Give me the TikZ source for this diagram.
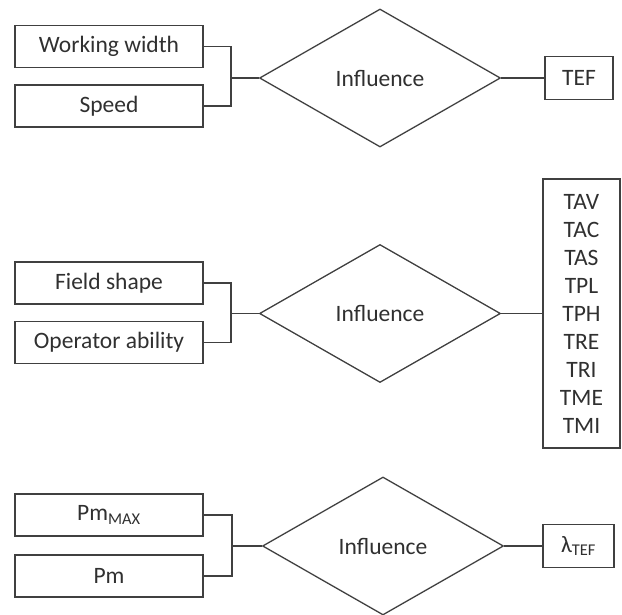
\documentclass[tikz,border=0pt]{standalone}
\usepackage{fontspec}
\setmainfont{Carlito}
\usetikzlibrary{shapes.geometric}

\definecolor{linegray}{HTML}{404040}
\definecolor{textgray}{HTML}{303030}

\begin{document}
\begin{tikzpicture}[x=1pt, y=-1pt,
    factor/.style={draw=linegray, line width=1.3pt, minimum width=188pt, minimum height=42pt,
        inner sep=0pt, text=textgray, font=\fontsize{23.5}{28}\selectfont},
    influence/.style={diamond, draw=linegray, line width=1.3pt, minimum width=241pt,
        minimum height=138pt, inner sep=0pt, text=textgray, font=\fontsize{23.5}{28}\selectfont},
    result/.style={draw=linegray, line width=1.3pt, minimum height=43pt, inner sep=0pt,
        text=textgray, font=\fontsize{23.5}{28}\selectfont, align=center},
    link/.style={draw=linegray, line width=1.3pt}]

    \useasboundingbox (0,0) rectangle (622,615);

    % first group
    \node[factor] (ww) at (109,46.5) {Working width};
    \node[factor] (sp) at (109,106) {Speed};
    \node[influence] (d1) at (380,78) {Influence};
    \node[result, minimum width=68pt] (tef) at (579,78) {TEF};

    \coordinate (j1) at (231,78);
    \draw[link] (ww.east) -| (j1) |- (sp.east);
    \draw[link] (j1) -- (d1.west);
    \draw[link] (d1.east) -- (tef.west);

    % second group
    \node[factor] (fs) at (109,283) {Field shape};
    \node[factor] (oa) at (109,342.5) {Operator ability};
    \node[influence] (d2) at (380,313.5) {Influence};
    \node[result, minimum width=77pt, minimum height=269pt] (tav) at (581.5,313.5)
        {TAV\\TAC\\TAS\\TPL\\TPH\\TRE\\TRI\\TME\\TMI};

    \coordinate (j2) at (231,313.5);
    \draw[link] (fs.east) -| (j2) |- (oa.east);
    \draw[link] (j2) -- (d2.west);
    \draw[link] (d2.east) -- (tav.west);

    % third group
    \node[factor] (pmax) at (109,515) {Pm\textsubscript{MAX}};
    \node[factor] (pm) at (109,576) {Pm};
    \node[influence] (d3) at (383,546) {Influence};
    \node[result, minimum width=71pt] (lam) at (578.5,546) {λ\textsubscript{TEF}};

    \coordinate (j3) at (232,546);
    \draw[link] (pmax.east) -| (j3) |- (pm.east);
    \draw[link] (j3) -- (d3.west);
    \draw[link] (d3.east) -- (lam.west);

\end{tikzpicture}
\end{document}
